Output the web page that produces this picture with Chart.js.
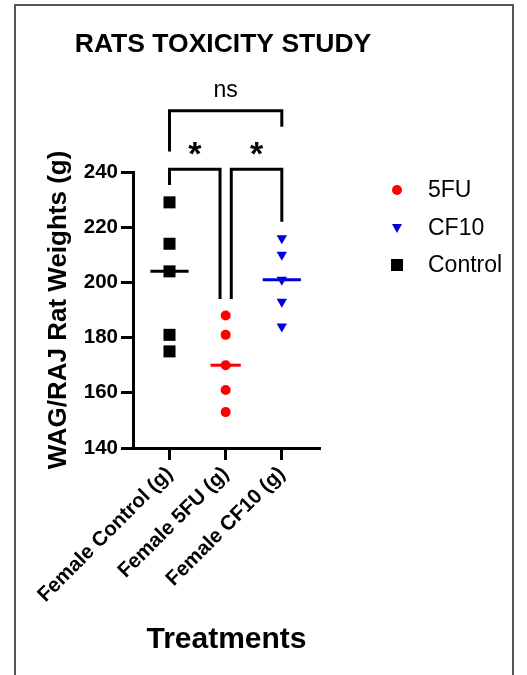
<!DOCTYPE html>
<html>
<head>
<meta charset="utf-8">
<script src="https://cdn.jsdelivr.net/npm/chart.js@4"></script>
<style>
html,body{margin:0;padding:0;background:#fff;overflow:hidden;}
#wrap{position:relative;width:527px;height:675px;}
#frame{position:absolute;left:14px;top:4px;width:500px;height:720px;border:2px solid #555;box-sizing:border-box;}
canvas{position:absolute;left:0;top:0;}
</style>
</head>
<body>
<div id="wrap"><div id="frame"></div><canvas id="c" width="527" height="675"></canvas></div>
<script>
const FONT = "'Liberation Sans', Arial, Helvetica, sans-serif";

const categories = ['Female Control (g)', 'Female 5FU (g)', 'Female CF10 (g)'];
const controlWeights = [229, 214, 204, 181, 175];
const fiveFUWeights = [188, 181, 170, 161, 153];
const cf10Weights = [216, 210, 201, 193, 184];
const medianWeights = [204, 170, 201];
const yTickValues = [140, 160, 180, 200, 220, 240];
const seriesNames = ['5FU', 'CF10', 'Control'];
const chartTitle = 'RATS TOXICITY STUDY';

// significance annotations (value-space placement)
const comparisons = [
  {label: '*', x1: 1, x2: 1.9, top: 241, leftEnd: 235.3, rightEnd: 194, labelX: 1.45, labelBase: 242.4, font: 'bold 34px ' + FONT},
  {label: '*', x1: 2.1, x2: 3, top: 241, leftEnd: 194, rightEnd: 222, labelX: 2.55, labelBase: 242.4, font: 'bold 34px ' + FONT},
  {label: 'ns', x1: 1, x2: 3, top: 262.2, leftEnd: 247.4, rightEnd: 256.4, labelX: 2, labelBase: 267.2, font: '23px ' + FONT}
];

const colors = {fu: '#ff0000', cf: '#0000dd', ctrl: '#000000'};
const medianHalfWidth = [0.34, 0.27, 0.34];

function pts(vals, cat) { return vals.map(v => ({x: cat, y: v})); }
function medianLine(i, color) {
  const c = i + 1;
  return {
    label: 'median' + i, data: [{x: c - medianHalfWidth[i], y: medianWeights[i]}, {x: c + medianHalfWidth[i], y: medianWeights[i]}],
    showLine: true, borderColor: color, borderWidth: 3, pointRadius: 0, pointHoverRadius: 0, fill: false
  };
}

const annotate = {
  id: 'annotate',
  afterDraw(chart) {
    const {ctx} = chart;
    const x = chart.scales.x, y = chart.scales.y;
    ctx.save();
    // title
    ctx.fillStyle = '#000';
    ctx.font = 'bold 26.5px ' + FONT;
    ctx.textAlign = 'center';
    ctx.textBaseline = 'alphabetic';
    ctx.fillText(chartTitle, 223, 52);
    // brackets
    ctx.strokeStyle = '#000';
    ctx.lineWidth = 3;
    ctx.lineJoin = 'miter';
    ctx.lineCap = 'butt';
    comparisons.forEach(c => {
      const px1 = x.getPixelForValue(c.x1), px2 = x.getPixelForValue(c.x2);
      const pyt = y.getPixelForValue(c.top);
      ctx.beginPath();
      ctx.moveTo(px1, y.getPixelForValue(c.leftEnd));
      ctx.lineTo(px1, pyt);
      ctx.lineTo(px2, pyt);
      ctx.lineTo(px2, y.getPixelForValue(c.rightEnd));
      ctx.stroke();
      ctx.font = c.font;
      ctx.textAlign = 'center';
      ctx.textBaseline = 'alphabetic';
      ctx.fillText(c.label, x.getPixelForValue(c.labelX), y.getPixelForValue(c.labelBase));
    });
    // legend
    const lx = 397, tx = 428, ly = [190, 228, 265];
    const legendColors = [colors.fu, colors.cf, colors.ctrl];
    seriesNames.forEach((name, i) => {
      const yy = ly[i];
      ctx.fillStyle = legendColors[i];
      ctx.beginPath();
      if (i === 0) {
        ctx.arc(lx, yy, 5, 0, Math.PI * 2);
      } else if (i === 1) {
        ctx.moveTo(lx - 5, yy - 4);
        ctx.lineTo(lx + 5, yy - 4);
        ctx.lineTo(lx, yy + 5);
        ctx.closePath();
      } else {
        ctx.rect(lx - 6, yy - 6, 12, 12);
      }
      ctx.fill();
      ctx.fillStyle = '#000';
      ctx.font = '23px ' + FONT;
      ctx.textAlign = 'left';
      ctx.textBaseline = 'middle';
      ctx.fillText(name, tx, yy + 1);
    });
    ctx.restore();
  }
};

const axisCommon = {
  grid: {drawOnChartArea: false, drawTicks: true, tickLength: 12, tickWidth: 3, tickColor: '#000', color: '#000'},
  border: {display: true, color: '#000', width: 3}
};

new Chart(document.getElementById('c'), {
  type: 'scatter',
  data: {
    datasets: [
      {label: seriesNames[0], data: pts(fiveFUWeights, 2), pointStyle: 'circle', pointRadius: 5, pointHoverRadius: 5,
       pointBackgroundColor: colors.fu, pointBorderColor: colors.fu, pointBorderWidth: 0, backgroundColor: colors.fu, borderColor: colors.fu},
      {label: seriesNames[1], data: pts(cf10Weights, 3), pointStyle: 'triangle', pointRotation: 180, pointRadius: 6, pointHoverRadius: 6,
       pointBackgroundColor: colors.cf, pointBorderColor: colors.cf, pointBorderWidth: 0, backgroundColor: colors.cf, borderColor: colors.cf},
      {label: seriesNames[2], data: pts(controlWeights, 1), pointStyle: 'rect', pointRadius: 8.5, pointHoverRadius: 8.5,
       pointBackgroundColor: colors.ctrl, pointBorderColor: colors.ctrl, pointBorderWidth: 0, backgroundColor: colors.ctrl, borderColor: colors.ctrl},
      medianLine(0, colors.ctrl),
      medianLine(1, colors.fu),
      medianLine(2, colors.cf)
    ]
  },
  options: {
    responsive: false,
    animation: false,
    devicePixelRatio: 1,
    layout: {padding: {left: 0, top: 172, right: 207, bottom: 0}},
    plugins: {legend: {display: false}, title: {display: false}, tooltip: {enabled: false}},
    scales: {
      x: Object.assign({}, axisCommon, {
        type: 'linear', min: 0.35, max: 3.68,
        afterBuildTicks: s => { s.ticks = categories.map((_, i) => ({value: i + 1})); },
        afterFit: s => { s.height = 227; },
        ticks: {autoSkip: false, minRotation: 45, maxRotation: 45, color: '#000', padding: 2,
                font: {family: FONT, size: 20.5, weight: 'bold'},
                callback: v => categories[v - 1] || ''},
        title: {display: true, text: 'Treatments', color: '#000', font: {family: FONT, size: 30, weight: 'bold'}, padding: {top: 17, bottom: 17}}
      }),
      y: Object.assign({}, axisCommon, {
        min: 140, max: 240,
        afterBuildTicks: s => { s.ticks = yTickValues.map(v => ({value: v})); },
        afterFit: s => { s.width = 133; },
        ticks: {color: '#000', padding: 3, font: {family: FONT, size: 20.5, weight: 'bold'}},
        title: {display: true, text: 'WAG/RAJ Rat Weights (g)', color: '#000', font: {family: FONT, size: 26, weight: 'bold'}, padding: {top: 43, bottom: 43}}
      })
    }
  },
  plugins: [annotate]
});
</script>
</body>
</html>
